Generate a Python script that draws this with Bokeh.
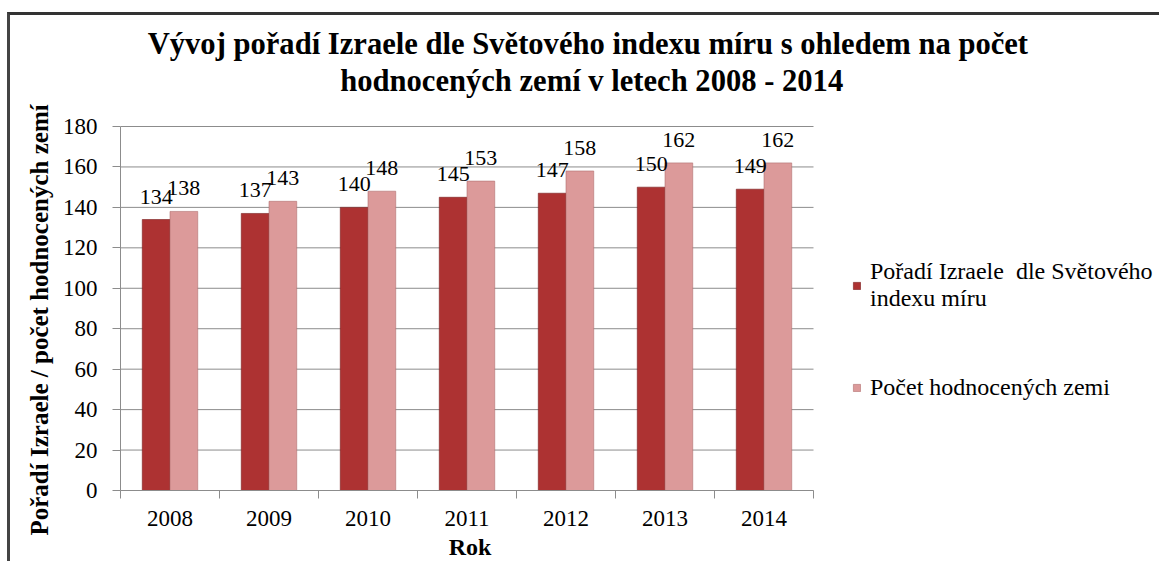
from bokeh.plotting import figure
from bokeh.models import (ColumnDataSource, LabelSet, Label, Legend, LegendItem,
                          FixedTicker, Title)
from bokeh.transform import dodge
from bokeh.embed import file_html
from bokeh.resources import INLINE

years = ["2008", "2009", "2010", "2011", "2012", "2013", "2014"]
rank = [134, 137, 140, 145, 147, 150, 149]
countries = [138, 143, 148, 153, 158, 162, 162]
y_ticks = [0, 20, 40, 60, 80, 100, 120, 140, 160, 180]

title_1 = "Vývoj pořadí  Izraele dle Světového indexu míru  s ohledem na počet"
title_2 = "hodnocených  zemí v letech 2008 - 2014"
y_label = "Pořadí  Izraele / počet  hodnocených  zemí"
x_label = "Rok"
series_names = ["Pořadí Izraele  dle Světového\nindexu míru", "Počet hodnocených zemi"]

FONT = "Liberation Serif"
DARK = "#ad3232"
LIGHT = "#dc9a9a"
GRID = "#8c8c8c"

# layout (pixels)
W, H = 1152, 549
LEFT, BOTTOM = 110, 74
PLOT_W, PLOT_H = 693, 364          # width of the 7 categories, height of 0..180
FRAME_W, FRAME_H = W - LEFT, H - BOTTOM
n = len(years)
y_max = y_ticks[-1]

centers = [i + 0.5 for i in range(n)]
src = ColumnDataSource(dict(
    x=centers, rank=rank, countries=countries,
    rank_txt=[str(v) for v in rank], countries_txt=[str(v) for v in countries],
))

p = figure(width=W, height=H, output_backend="svg", toolbar_location=None,
           x_range=(0, n * FRAME_W / PLOT_W), y_range=(0, y_max * FRAME_H / PLOT_H),
           min_border_left=LEFT, min_border_right=0, min_border_top=0,
           min_border_bottom=BOTTOM)
p.styles = {"margin-left": "7px", "margin-top": "12px",
            "border-left": "3px solid #444444", "border-top": "3px solid #333333"}
p.outline_line_color = None
p.background_fill_color = "white"
p.border_fill_color = "white"
p.xgrid.grid_line_color = None
p.ygrid.grid_line_color = None

# horizontal gridlines over the category span
p.segment(x0=0, x1=n, y0=y_ticks, y1=y_ticks, line_color=GRID, line_width=1)

bw = 0.28
r1 = p.vbar(x=dodge("x", -bw / 2), top="rank", width=bw, source=src,
            fill_color=DARK, line_color="#7a1e1e", line_alpha=0.6)
r2 = p.vbar(x=dodge("x", bw / 2), top="countries", width=bw, source=src,
            fill_color=LIGHT, line_color="#b07070", line_alpha=0.6)

# axes
p.xaxis.bounds = (0, n)
p.xaxis.ticker = FixedTicker(ticks=centers, minor_ticks=list(range(n + 1)))
p.xaxis.major_label_overrides = {c: y for c, y in zip(centers, years)}
p.xaxis.major_tick_out = 0
p.xaxis.major_tick_in = 0
p.xaxis.minor_tick_out = 8
p.xaxis.minor_tick_in = 0
p.xaxis.minor_tick_line_color = GRID
p.xaxis.axis_line_color = GRID
p.xaxis.major_label_standoff = 12

p.yaxis.bounds = (0, y_max)
p.yaxis.ticker = FixedTicker(ticks=y_ticks)
p.yaxis.minor_tick_line_color = None
p.yaxis.major_tick_out = 8
p.yaxis.major_tick_in = 0
p.yaxis.major_tick_line_color = GRID
p.yaxis.axis_line_color = GRID
p.yaxis.major_label_standoff = 15

for ax in (p.xaxis, p.yaxis):
    ax.major_label_text_font = FONT
    ax.major_label_text_font_size = "23px"
    ax.major_label_text_color = "black"

# axis titles
p.add_layout(Title(text=y_label, align="left", offset=-45, standoff=13,
                   text_font=FONT, text_font_style="bold", text_font_size="25px",
                   text_color="black"), "left")
p.add_layout(Label(x=LEFT + PLOT_W / 2, y=528, x_units="canvas", y_units="canvas",
                   text=x_label, text_align="center", text_baseline="middle",
                   text_font=FONT, text_font_style="bold", text_font_size="24px",
                   text_color="black"), "below")

# data labels
for col, off in (("rank", -bw / 2), ("countries", bw / 2)):
    p.add_layout(LabelSet(x=dodge("x", off), y=col, text=col + "_txt", source=src,
                          text_align="center", text_baseline="alphabetic",
                          y_offset=16, text_font=FONT, text_font_size="22px",
                          text_color="black"))

# title: two centred lines (screen units from the frame's bottom-left corner)
for txt, yy in ((title_1, 447), (title_2, 410)):
    p.add_layout(Label(x=475, y=yy, x_units="screen", y_units="screen", text=txt,
                       text_align="center", text_baseline="middle", text_font=FONT,
                       text_font_style="bold", text_font_size="30.6px",
                       text_color="black"))

legend = Legend(items=[LegendItem(label=series_names[0], renderers=[r1]),
                       LegendItem(label=series_names[1], renderers=[r2])],
                location=(732, 89), border_line_color=None, background_fill_alpha=0,
                glyph_width=9, glyph_height=9, label_standoff=9, spacing=62,
                padding=0, margin=0, label_text_font=FONT, label_text_font_size="24px",
                label_text_color="black", label_text_line_height=1.3)
p.add_layout(legend, "center")

open("out.html", "w").write(file_html(p, INLINE))
